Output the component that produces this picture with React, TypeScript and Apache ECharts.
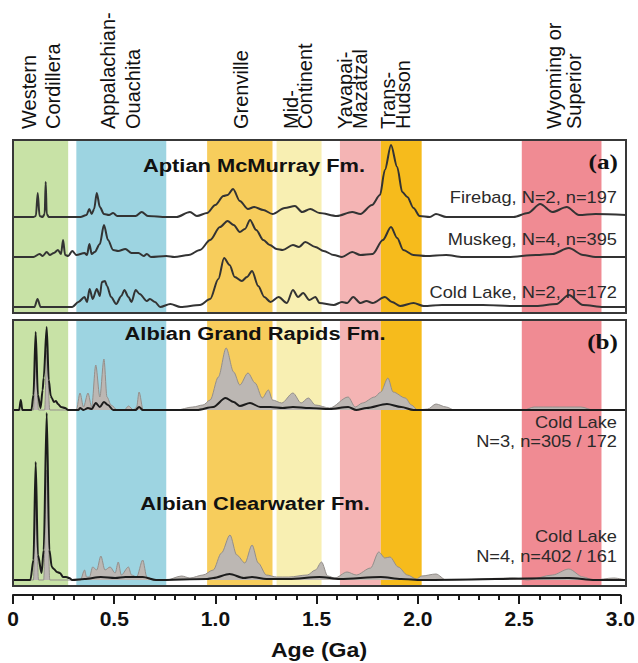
import React, { useEffect, useRef } from 'react';
import * as echarts from 'echarts';

// ---- Source provinces (age bands, Ga) ----
const provinceNames = [
  'Western Cordillera',
  'Appalachian-Ouachita',
  'Grenville',
  'Mid-Continent',
  'Yavapai-Mazatzal',
  'Trans-Hudson',
  'Wyoming or Superior',
];
const provinceFrom = [0, 0.31, 0.95, 1.29, 1.6, 1.8, 2.49];
const provinceTo = [0.27, 0.75, 1.27, 1.51, 1.8, 2.0, 2.88];

// Rotated header lines, one entry per printed line
const headerLines = [
  'Western', 'Cordillera', 'Appalachian-', 'Ouachita', 'Grenville', 'Mid-', 'Continent',
  'Yavapai-', 'Mazatzal', 'Trans-', 'Hudson', 'Wyoming or', 'Superior',
];

// ---- Axis ticks ----
const ageTicks = [0, 0.5, 1.0, 1.5, 2.0, 2.5, 3.0];

// ---- Relative age-probability curves: [age (Ga), relative probability] ----
// (a) Aptian McMurray Fm.
const firebag: [number, number][] = [
  [0, 0], [0.1, 0], [0.112, 1], [0.121, 24], [0.13, 1], [0.145, 0], [0.155, 3], [0.16, 35], [0.165, 3],
  [0.175, 0], [0.33, 0], [0.36, 2], [0.373, 8], [0.385, 3], [0.397, 8], [0.41, 24], [0.425, 10], [0.445, 3],
  [0.47, 2], [0.49, 4], [0.51, 1], [0.6, 1], [0.63, 5], [0.66, 1], [0.75, 0], [0.8, 0], [0.866, 5], [0.9, 1],
  [0.95, 4], [0.99, 12], [1.03, 21], [1.05, 22], [1.077, 28], [1.11, 16], [1.15, 8], [1.18, 10], [1.225, 7],
  [1.27, 3], [1.33, 9], [1.38, 11], [1.415, 5], [1.455, 8], [1.5, 4], [1.585, 1], [1.66, 5], [1.7, 3],
  [1.757, 12], [1.796, 22], [1.82, 47], [1.85, 72], [1.88, 50], [1.905, 25], [1.93, 20], [1.96, 9], [1.99, 1],
  [2.04, 0], [2.07, 3], [2.12, 0], [2.45, 0], [2.52, 4], [2.58, 13], [2.64, 5], [2.71, 10], [2.77, 2],
  [2.85, 3], [3.0, 2],
];
const muskeg: [number, number][] = [
  [0, 0], [0.1, 0], [0.13, 3], [0.145, 1], [0.165, 5], [0.18, 2], [0.2, 4], [0.22, 7], [0.235, 3], [0.245, 17],
  [0.255, 2], [0.27, 1], [0.29, 6], [0.31, 2], [0.35, 4], [0.362, 2], [0.374, 13], [0.385, 3], [0.4, 5],
  [0.425, 13], [0.445, 32], [0.465, 17], [0.49, 7], [0.515, 6], [0.55, 8], [0.58, 4], [0.614, 4], [0.64, 1],
  [0.655, 3], [0.675, 0], [0.75, 1], [0.79, 0], [0.86, 2], [0.915, 7], [0.965, 17], [1.013, 30], [1.05, 36],
  [1.08, 32], [1.11, 25], [1.135, 28], [1.16, 37], [1.19, 27], [1.225, 17], [1.257, 12], [1.29, 8], [1.32, 7],
  [1.37, 12], [1.4, 10], [1.43, 15], [1.48, 10], [1.52, 6], [1.57, 2], [1.61, 0], [1.66, 5], [1.7, 2],
  [1.76, 3], [1.81, 17], [1.85, 30], [1.88, 19], [1.91, 7], [1.96, 2], [2.02, 1], [2.12, 2], [2.2, 0],
  [2.42, 0], [2.56, 2], [2.64, 3], [2.72, 9], [2.79, 2], [2.85, 0], [3.0, 0],
];
const coldLakeAptian: [number, number][] = [
  [0, 0], [0.105, 0], [0.12, 8], [0.135, 0], [0.29, 0], [0.32, 5], [0.35, 10], [0.362, 5], [0.375, 18],
  [0.39, 8], [0.41, 18], [0.425, 11], [0.435, 25], [0.45, 26], [0.46, 21], [0.48, 10], [0.505, 3], [0.53, 11],
  [0.545, 17], [0.565, 10], [0.58, 5], [0.6, 17], [0.62, 13], [0.655, 6], [0.67, 8], [0.695, 5], [0.72, 0],
  [0.77, 3], [0.82, 0], [0.915, 2], [0.965, 8], [1.005, 28], [1.033, 49], [1.06, 42], [1.085, 30], [1.12, 26],
  [1.145, 30], [1.17, 36], [1.2, 21], [1.23, 10], [1.26, 5], [1.3, 10], [1.34, 4], [1.37, 17], [1.395, 10],
  [1.42, 14], [1.45, 7], [1.48, 10], [1.5, 4], [1.57, 2], [1.61, 5], [1.635, 4], [1.665, 10], [1.7, 4],
  [1.73, 6], [1.76, 4], [1.82, 10], [1.855, 5], [1.895, 1], [1.96, 4], [2.01, 1], [2.1, 2], [2.3, 2],
  [2.45, 1], [2.56, 1], [2.66, 3], [2.72, 12], [2.79, 2], [2.89, 0], [3.0, 0],
];

// (b) Albian Grand Rapids Fm. (line) and its wider population (grey fill)
const grandRapidsLine: [number, number][] = [
  [0, 0], [0.03, 0], [0.038, 10], [0.046, 0], [0.09, 0], [0.1, 15], [0.111, 78], [0.122, 15], [0.135, 2],
  [0.145, 20], [0.15, 32], [0.165, 83], [0.175, 30], [0.185, 14], [0.19, 12], [0.2, 8], [0.21, 9], [0.22, 6],
  [0.235, 3], [0.255, 2], [0.27, 0], [0.32, 0], [0.328, 2], [0.345, 0], [0.367, 2], [0.385, 1], [0.405, 7],
  [0.425, 3], [0.445, 8], [0.465, 5], [0.49, 0], [0.6, 0], [0.617, 3], [0.635, 0], [0.9, 0], [0.98, 3],
  [1.04, 12], [1.08, 8], [1.11, 4], [1.16, 7], [1.21, 3], [1.26, 3], [1.32, 2], [1.37, 3], [1.45, 2],
  [1.55, 1], [1.64, 3], [1.68, 0], [1.73, 2], [1.83, 6], [1.9, 3], [1.96, 0], [3.0, 0],
];
const grandRapidsFill: [number, number][] = [
  [0, 0], [0.1, 0], [0.111, 55], [0.125, 0], [0.155, 0], [0.165, 60], [0.18, 0], [0.31, 0], [0.328, 17],
  [0.345, 3], [0.367, 17], [0.385, 3], [0.405, 45], [0.425, 13], [0.445, 51], [0.46, 13], [0.48, 5], [0.51, 0],
  [0.545, 0], [0.565, 4], [0.59, 0], [0.605, 3], [0.617, 18], [0.637, 0], [0.8, 0], [0.88, 3], [0.93, 5],
  [0.965, 10], [1.005, 33], [1.043, 62], [1.08, 38], [1.11, 25], [1.15, 37], [1.185, 27], [1.22, 12],
  [1.25, 20], [1.27, 10], [1.315, 7], [1.37, 17], [1.41, 7], [1.445, 12], [1.48, 5], [1.55, 2], [1.64, 13],
  [1.675, 3], [1.71, 7], [1.77, 13], [1.8, 18], [1.835, 32], [1.86, 18], [1.92, 12], [1.95, 5], [1.98, 0],
  [2.03, 1], [2.07, 6], [2.12, 3], [2.16, 0], [2.5, 0], [2.55, 3], [2.64, 3], [2.78, 3], [2.84, 0], [3.0, 0],
];

// (b) Albian Clearwater Fm.
const clearwaterLine: [number, number][] = [
  [0, 0], [0.085, 0], [0.1, 20], [0.111, 118], [0.122, 25], [0.14, 7], [0.15, 30], [0.165, 167], [0.178, 30],
  [0.19, 13], [0.2, 11], [0.215, 8], [0.23, 7], [0.245, 3], [0.26, 3], [0.275, 2], [0.29, 0], [0.35, 1],
  [0.43, 3], [0.5, 2], [0.55, 3], [0.635, 3], [0.7, 0], [0.95, 1], [0.98, 2], [1.06, 6], [1.13, 2], [1.17, 3],
  [1.24, 1], [1.35, 1], [1.5, 3], [1.6, 1], [1.8, 3], [1.9, 1], [2.0, 0], [2.72, 2], [2.85, 0], [3.0, 0],
];
const clearwaterFill: [number, number][] = [
  [0, 0], [0.1, 0], [0.111, 80], [0.125, 0], [0.15, 0], [0.165, 110], [0.18, 0], [0.33, 0], [0.35, 10],
  [0.36, 3], [0.374, 3], [0.39, 13], [0.41, 10], [0.43, 24], [0.45, 10], [0.475, 13], [0.5, 7], [0.515, 18],
  [0.53, 5], [0.565, 13], [0.58, 5], [0.605, 3], [0.635, 20], [0.655, 3], [0.69, 0], [0.75, 0], [0.825, 4],
  [0.866, 2], [0.93, 5], [0.98, 10], [1.02, 27], [1.062, 45], [1.095, 25], [1.135, 17], [1.17, 35], [1.2, 17],
  [1.24, 5], [1.29, 3], [1.35, 3], [1.44, 5], [1.48, 10], [1.51, 18], [1.54, 4], [1.575, 2], [1.635, 8],
  [1.68, 5], [1.75, 12], [1.79, 28], [1.82, 22], [1.845, 23], [1.885, 13], [1.93, 5], [1.975, 1], [2.0, 4],
  [2.07, 6], [2.12, 0], [2.45, 2], [2.52, 0], [2.64, 5], [2.72, 11], [2.79, 3], [2.84, 0], [2.94, 2], [3.0, 0],
];

// ---- Layout and style ----
const W = 638;
const H = 663;
const LEFT = 13;
const RIGHT = 12;
const A_TOP = 140;
const A_BOTTOM = 313;
const B_TOP = 320;
const B_BOTTOM = 586;
const AXIS_Y = 595;

const bandColors = ['#c8e2a6', '#9dd4e1', '#f7cd5c', '#f8efb2', '#f4b4b4', '#f6bb1c', '#f08b93'];
const headerX = [29, 53, 108, 133, 241, 291, 305, 345, 360, 388, 403, 554, 574];
const HEADER_Y = 129;

// Each curve gets its own strip: baseline pixel row and strip height (1 unit = 1 px)
const strips = [
  { baseline: 217, height: 80 },
  { baseline: 257, height: 80 },
  { baseline: 307, height: 80 },
  { baseline: 410, height: 100 },
  { baseline: 580, height: 180 },
];

const SANS = 'Liberation Sans, Arial, Helvetica, sans-serif';
const SERIF = 'Liberation Serif, Times New Roman, serif';

function buildOption(): echarts.EChartsOption {
  const grids: any[] = [
    { left: LEFT, right: RIGHT, top: A_TOP, height: A_BOTTOM - A_TOP, show: false },
    { left: LEFT, right: RIGHT, top: B_TOP, height: B_BOTTOM - B_TOP, show: false },
    ...strips.map((s) => ({ left: LEFT, right: RIGHT, top: s.baseline - s.height, height: s.height, show: false })),
    { left: LEFT, right: RIGHT, top: B_BOTTOM, height: AXIS_Y - B_BOTTOM, show: false },
  ];
  const axisGridIndex = grids.length - 1;

  const xAxes: any[] = grids.map((_, i) => ({
    type: 'value',
    gridIndex: i,
    min: 0,
    max: 3,
    interval: 0.5,
    show: i === axisGridIndex,
    axisLine: { show: true, onZero: false, lineStyle: { color: '#1a1a1a', width: 2 } },
    axisTick: { show: true, length: 9, lineStyle: { color: '#1a1a1a', width: 2 } },
    minorTick: { show: true, splitNumber: 5, length: 5, lineStyle: { color: '#1a1a1a', width: 2 } },
    splitLine: { show: false },
    minorSplitLine: { show: false },
    axisLabel: {
      show: true,
      margin: 13,
      fontSize: 21,
      fontWeight: 'bold',
      fontFamily: SANS,
      color: '#111',
      customValues: ageTicks,
      formatter: (v: number) => (v === 0 ? '0' : v.toFixed(1)),
    },
  }));

  const yAxes: any[] = grids.map((_, i) => {
    const stripIdx = i - 2;
    const max = stripIdx >= 0 && stripIdx < strips.length ? strips[stripIdx].height : 1;
    return { type: 'value', gridIndex: i, min: 0, max, show: false };
  });

  const bandData = provinceNames.map((name, i) => ({ name, value: [provinceFrom[i], provinceTo[i]] }));
  const bandSeries = (gridIndex: number) => ({
    type: 'custom',
    xAxisIndex: gridIndex,
    yAxisIndex: gridIndex,
    z: 1,
    silent: true,
    clip: false,
    encode: { x: [0, 1] },
    data: bandData,
    renderItem: (params: any, api: any) => {
      const p0 = api.coord([api.value(0), 1]);
      const p1 = api.coord([api.value(1), 0]);
      return {
        type: 'rect',
        shape: { x: p0[0], y: p0[1], width: p1[0] - p0[0], height: p1[1] - p0[1] },
        style: { fill: bandColors[params.dataIndex] },
      };
    },
  });

  const lineSeries = (data: [number, number][], strip: number, color: string, width: number) => ({
    type: 'line',
    xAxisIndex: strip + 2,
    yAxisIndex: strip + 2,
    data,
    showSymbol: false,
    smooth: 0.3,
    smoothMonotone: 'x',
    clip: false,
    z: 4,
    lineStyle: { color, width },
  });

  const fillSeries = (data: [number, number][], strip: number) => ({
    type: 'line',
    xAxisIndex: strip + 2,
    yAxisIndex: strip + 2,
    data,
    showSymbol: false,
    smooth: 0.3,
    smoothMonotone: 'x',
    clip: false,
    z: 3,
    lineStyle: { color: '#948f8b', width: 1 },
    areaStyle: { color: '#bcb7b3', opacity: 1 },
  });

  const series: any[] = [
    bandSeries(0),
    bandSeries(1),
    lineSeries(firebag, 0, '#333', 2),
    lineSeries(muskeg, 1, '#333', 2),
    lineSeries(coldLakeAptian, 2, '#333', 2),
    fillSeries(grandRapidsFill, 3),
    lineSeries(grandRapidsLine, 3, '#1c1c1c', 2),
    fillSeries(clearwaterFill, 4),
    lineSeries(clearwaterLine, 4, '#1c1c1c', 2),
  ];

  const txt = (
    text: string,
    x: number,
    y: number,
    font: string,
    align: 'left' | 'center' | 'right',
    opts: any = {}
  ) => ({
    type: 'text',
    x,
    y,
    z: 100,
    silent: true,
    ...opts,
    style: { text, font, fill: opts.fill || '#111', align, verticalAlign: 'middle' },
  });

  const graphics: any[] = [
    // panel frames
    {
      type: 'rect', z: 90, silent: true,
      shape: { x: LEFT, y: A_TOP, width: W - LEFT - RIGHT, height: A_BOTTOM - A_TOP },
      style: { fill: 'none', stroke: '#383838', lineWidth: 2 },
    },
    {
      type: 'rect', z: 90, silent: true,
      shape: { x: LEFT, y: B_TOP, width: W - LEFT - RIGHT, height: B_BOTTOM - B_TOP },
      style: { fill: 'none', stroke: '#383838', lineWidth: 2 },
    },
    // rotated province headers
    ...headerLines.map((line, i) =>
      txt(line, headerX[i], HEADER_Y, `20px ${SANS}`, 'left', { rotation: Math.PI / 2 })
    ),
    // formation titles
    txt('Aptian McMurray Fm.', 254, 165.5, `bold 19px ${SANS}`, 'center', { scaleX: 1.15 }),
    txt('Albian Grand Rapids Fm.', 255, 333.5, `bold 19px ${SANS}`, 'center', { scaleX: 1.15 }),
    txt('Albian Clearwater Fm.', 255, 503.5, `bold 19px ${SANS}`, 'center', { scaleX: 1.15 }),
    txt('(a)', 618, 162, `bold 21px ${SERIF}`, 'right', { scaleX: 1.2 }),
    txt('(b)', 618, 342, `bold 21px ${SERIF}`, 'right', { scaleX: 1.2 }),
    // sample annotations
    txt('Firebag, N=2, n=197', 617, 197.5, `16px ${SANS}`, 'right', { scaleX: 1.14, fill: '#2a2a2a' }),
    txt('Muskeg, N=4, n=395', 617, 239.5, `16px ${SANS}`, 'right', { scaleX: 1.14, fill: '#2a2a2a' }),
    txt('Cold Lake, N=2, n=172', 617, 292.5, `16px ${SANS}`, 'right', { scaleX: 1.14, fill: '#2a2a2a' }),
    txt('Cold Lake', 617, 422.5, `16px ${SANS}`, 'right', { scaleX: 1.14, fill: '#2a2a2a' }),
    txt('N=3, n=305 / 172', 617, 441.5, `16px ${SANS}`, 'right', { scaleX: 1.14, fill: '#2a2a2a' }),
    txt('Cold Lake', 617, 536.5, `16px ${SANS}`, 'right', { scaleX: 1.14, fill: '#2a2a2a' }),
    txt('N=4, n=402 / 161', 617, 556.5, `16px ${SANS}`, 'right', { scaleX: 1.14, fill: '#2a2a2a' }),
    // axis title
    txt('Age (Ga)', 319, 649.5, `bold 21px ${SANS}`, 'center', { scaleX: 1.1 }),
  ];

  return {
    animation: false,
    backgroundColor: '#ffffff',
    grid: grids,
    xAxis: xAxes,
    yAxis: yAxes,
    series,
    graphic: graphics,
  } as any;
}

export default function App() {
  const ref = useRef<HTMLDivElement>(null);
  useEffect(() => {
    if (!ref.current) return;
    const chart = echarts.init(ref.current, undefined, { renderer: 'svg' });
    chart.setOption(buildOption());
    return () => chart.dispose();
  }, []);
  return (
    <div
      ref={ref}
      style={{ position: 'fixed', left: 0, top: 0, width: W, height: H, background: '#fff' }}
    />
  );
}
